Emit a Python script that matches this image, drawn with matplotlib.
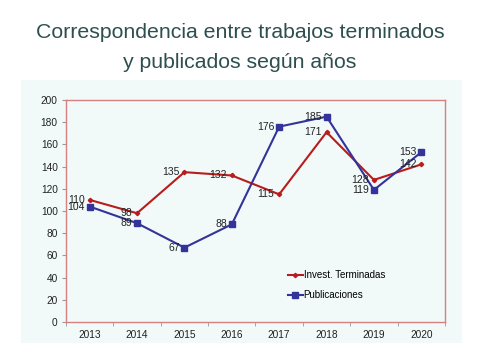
import matplotlib
matplotlib.use("Agg")
import matplotlib.pyplot as plt
from matplotlib.patches import Rectangle
from matplotlib.ticker import FixedLocator

plt.rcParams['font.family'] = ['Liberation Sans', 'DejaVu Sans']

# datos
years = ['2013', '2014', '2015', '2016', '2017', '2018', '2019', '2020']
invest_terminadas = [110, 98, 135, 132, 115, 171, 128, 142]
publicaciones = [104, 89, 67, 88, 176, 185, 119, 153]

bg = '#f2f9f9'
red = '#b81c1c'
blue = '#333399'

fig = plt.figure(figsize=(4.8, 3.6), dpi=100)
fig.patch.set_facecolor('white')

# fondo del area del grafico
fig.patches.append(Rectangle((21 / 480, 1 - 343 / 360), 441 / 480, 263 / 360,
                             transform=fig.transFigure, facecolor=bg,
                             edgecolor='none', zorder=-10))

# titulo
fig.text(0.5, 1 - 33 / 360, 'Correspondencia entre trabajos terminados',
         ha='center', va='center', fontsize=15.3, color='#2e4f4f')
fig.text(0.5, 1 - 63 / 360, 'y publicados según años',
         ha='center', va='center', fontsize=15.3, color='#2e4f4f')

ax = fig.add_axes([66 / 480, 1 - 322 / 360, 379 / 480, 222 / 360])
ax.set_facecolor(bg)

x = list(range(len(years)))
ax.plot(x, invest_terminadas, color=red, lw=1.5, marker='D', ms=2.2,
        label='Invest. Terminadas')
ax.plot(x, publicaciones, color=blue, lw=1.5, marker='s', ms=4.2,
        label='Publicaciones')

# etiquetas de datos
for i, v in enumerate(invest_terminadas):
    ax.annotate(str(v), (i, v), xytext=(-3.5, 0), textcoords='offset points',
                ha='right', va='center', fontsize=7.5, color='#222222')
for i, v in enumerate(publicaciones):
    ax.annotate(str(v), (i, v), xytext=(-3.5, 0), textcoords='offset points',
                ha='right', va='center', fontsize=7.5, color='#222222')

ax.set_xlim(-0.5, len(years) - 0.5)
ax.set_ylim(0, 200)
ax.set_yticks(range(0, 201, 20))
ax.set_xticks(x)
ax.set_xticklabels(years)
ax.xaxis.set_minor_locator(FixedLocator([i - 0.5 for i in range(len(years) + 1)]))
ax.tick_params(axis='x', which='major', length=0, labelsize=7.3, pad=6, labelcolor='#222222')
ax.tick_params(axis='x', which='minor', length=3, color='#999999', direction='out')
ax.tick_params(axis='y', length=3, color='#999999', labelsize=7.3, pad=3, labelcolor='#222222')

for s in ax.spines.values():
    s.set_color('#d88080')
    s.set_linewidth(1.0)

ax.legend(loc='upper left', bbox_to_anchor=(0.573, 0.255), frameon=False,
          fontsize=7, borderpad=0, handlelength=1.5, handletextpad=0.1,
          labelspacing=1.0)

fig.savefig('out.png', dpi=100)
